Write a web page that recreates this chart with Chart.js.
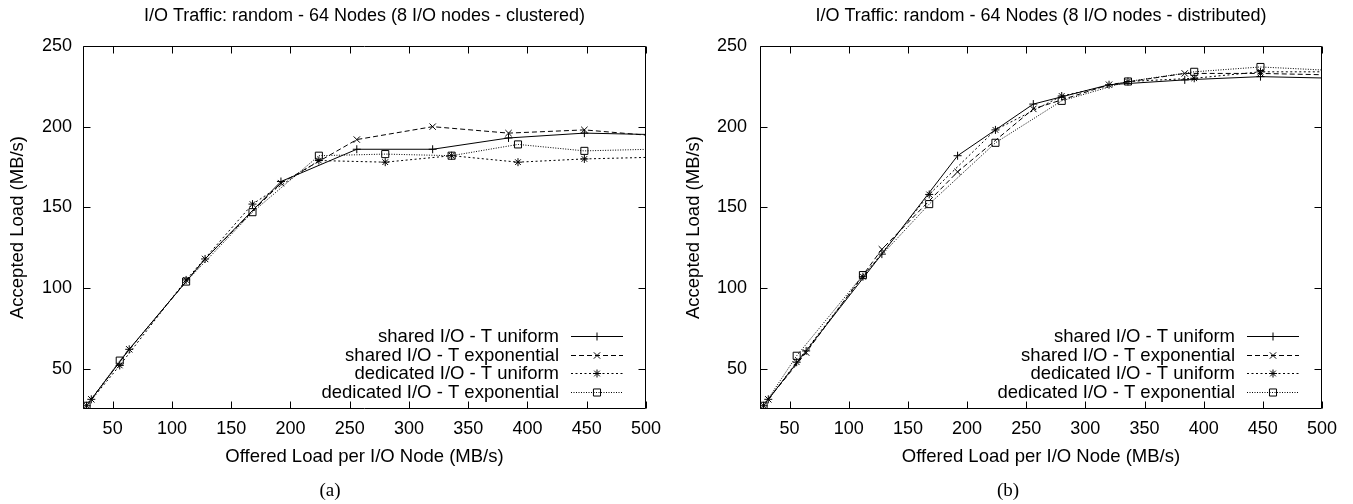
<!DOCTYPE html>
<html><head><meta charset="utf-8">
<script src="https://cdn.jsdelivr.net/npm/chart.js@4/dist/chart.umd.min.js"></script>
<style>
html,body{margin:0;padding:0;background:#fff;}
#wrap{position:relative;width:1353px;height:504px;overflow:hidden;background:#fff;}
.c{position:absolute;top:0;height:504px;}
.lab{position:absolute;top:478px;width:60px;text-align:center;line-height:24px;font-family:"Liberation Serif","Times New Roman",serif;font-size:19px;color:#000;}
</style></head><body>
<div id="wrap">
  <div class="c" style="left:0;width:676px"><canvas id="ca"></canvas></div>
  <div class="c" style="left:676px;width:677px"><canvas id="cb"></canvas></div>
  <div class="lab" style="left:300px">(a)</div>
  <div class="lab" style="left:978px">(b)</div>
</div>
<script>
// ---- data ----
const sharedLoads    = [32, 64, 128, 192, 256, 320, 384, 448, 512];
const dedicatedLoads = [28, 56, 112, 168, 224, 280, 336, 392, 448, 504];

const clusteredSharedUniform        = [31, 62, 118, 166, 186, 186, 193, 196, 195];
const clusteredSharedExponential    = [31, 62, 118, 165, 192, 200, 196, 198, 194];
const clusteredDedicatedUniform     = [27, 52, 105, 152, 179, 178, 182, 178, 180, 181];
const clusteredDedicatedExponential = [27, 55, 104, 147, 182, 183, 182, 189, 185, 186];

const distSharedUniform        = [31, 61, 121, 182, 214, 226, 229, 231, 230];
const distSharedExponential    = [31, 60, 124, 172, 211, 226, 233, 233, 232];
const distDedicatedUniform     = [27, 54, 107, 158, 198, 219, 228, 230, 234, 234];
const distDedicatedExponential = [27, 58, 108, 152, 190, 216, 228, 234, 237, 235];

const seriesLabels = ['shared I/O - T uniform', 'shared I/O - T exponential',
                      'dedicated I/O - T uniform', 'dedicated I/O - T exponential'];
const xTickStep = 50, yTickStep = 50;

// ---- styles ----
const FONT = "'Liberation Sans', Arial, Helvetica, sans-serif";
Chart.defaults.font.family = FONT;
Chart.defaults.color = '#000';

const styles = [
  {borderDash: [], pointStyle: 'cross', pointRadius: 4},
  {borderDash: [5, 3], pointStyle: 'crossRot', pointRadius: 4.5},
  {borderDash: [2, 2.5], pointStyle: 'star', pointRadius: 4},
  {borderDash: [1, 1.5], pointStyle: 'rect', pointRadius: 5}
];

function pts(xs, ys) { return xs.map((x, i) => ({x: x, y: ys[i]})); }

function makeDatasets(a, b, c, d) {
  const sets = [pts(sharedLoads, a), pts(sharedLoads, b), pts(dedicatedLoads, c), pts(dedicatedLoads, d)];
  return sets.map((data, i) => Object.assign({
    label: seriesLabels[i],
    data: data,
    borderColor: '#000',
    borderWidth: 1,
    pointBorderColor: '#000',
    pointBackgroundColor: 'rgba(0,0,0,0)',
    pointBorderWidth: 1,
    pointHoverRadius: 0,
    tension: 0,
    fill: false
  }, styles[i]));
}

const framePlugin = {
  id: 'gnuFrame',
  afterDatasetsDraw(chart) {
    const {ctx, chartArea: a, scales} = chart;
    const L = Math.round(a.left) + 0.5, R = Math.round(a.right) - 0.5;
    const T = Math.round(a.top) + 0.5, B = Math.round(a.bottom) - 0.5;
    const tl = 7;
    ctx.save();
    ctx.strokeStyle = '#000'; ctx.lineWidth = 1; ctx.setLineDash([]);
    ctx.beginPath();
    ctx.rect(L, T, R - L, B - T);
    scales.x.ticks.forEach(t => {
      const px = Math.round(scales.x.getPixelForValue(t.value)) + 0.5;
      ctx.moveTo(px, B); ctx.lineTo(px, B - tl);
      ctx.moveTo(px, T); ctx.lineTo(px, T + tl);
    });
    scales.y.ticks.forEach(t => {
      const py = Math.round(scales.y.getPixelForValue(t.value)) + 0.5;
      ctx.moveTo(L, py); ctx.lineTo(L + tl, py);
      ctx.moveTo(R, py); ctx.lineTo(R - tl, py);
    });
    ctx.stroke();
    ctx.restore();
  }
};

const keyPlugin = {
  id: 'gnuKey',
  afterDatasetsDraw(chart) {
    const {ctx, chartArea: a} = chart;
    const rows = [73, 54.5, 36, 17.5];
    ctx.save();
    ctx.font = '18.5px ' + FONT;
    ctx.textAlign = 'right';
    ctx.textBaseline = 'middle';
    chart.data.datasets.forEach((ds, i) => {
      const y = Math.round(a.bottom - rows[i]) + 0.5;
      ctx.fillStyle = '#000';
      ctx.fillText(ds.label, a.right - 87, y);
      ctx.strokeStyle = '#000'; ctx.lineWidth = 1;
      ctx.setLineDash(ds.borderDash || []);
      ctx.beginPath(); ctx.moveTo(a.right - 75, y); ctx.lineTo(a.right - 23, y); ctx.stroke();
      ctx.setLineDash([]);
      ctx.fillStyle = 'rgba(0,0,0,0)';
      Chart.helpers.drawPoint(ctx, {pointStyle: ds.pointStyle, radius: ds.pointRadius, borderWidth: 1, rotation: 0}, a.right - 49, y);
    });
    ctx.restore();
  }
};

function makeChart(id, title, datasets, yWidth, yPad, rightPad) {
  return new Chart(document.getElementById(id), {
    type: 'line',
    data: {datasets: datasets},
    plugins: [framePlugin, keyPlugin],
    options: {
      responsive: true,
      maintainAspectRatio: false,
      devicePixelRatio: 1,
      animation: false,
      events: [],
      layout: {padding: {left: 0, right: rightPad, top: 0, bottom: 32.2}},
      plugins: {
        legend: {display: false},
        tooltip: {enabled: false},
        title: {display: true, text: title, fullSize: false, color: '#000',
                font: {family: FONT, size: 18, weight: 'normal'},
                padding: {top: 5, bottom: 19.4}}
      },
      scales: {
        x: {
          type: 'linear', min: 25, max: 500,
          grid: {display: false, drawTicks: false},
          border: {display: false},
          ticks: {stepSize: xTickStep, includeBounds: false, autoSkip: false, maxRotation: 0,
                  padding: 9, color: '#000', font: {family: FONT, size: 18}},
          title: {display: true, text: 'Offered Load per I/O Node (MB/s)', color: '#000',
                  font: {family: FONT, size: 18.5}, padding: {top: -3, bottom: 4}}
        },
        y: {
          type: 'linear', min: 25, max: 250,
          grid: {display: false, drawTicks: false},
          border: {display: false},
          ticks: {stepSize: yTickStep, includeBounds: false, padding: yPad, color: '#000',
                  font: {family: FONT, size: 18}},
          title: {display: true, text: 'Accepted Load (MB/s)', color: '#000',
                  font: {family: FONT, size: 18.5}, padding: {top: 7, bottom: 0}},
          afterFit: s => { s.width = yWidth; }
        }
      }
    }
  });
}

makeChart('ca', 'I/O Traffic: random - 64 Nodes (8 I/O nodes - clustered)',
  makeDatasets(clusteredSharedUniform, clusteredSharedExponential, clusteredDedicatedUniform, clusteredDedicatedExponential),
  83, 11, 30);
makeChart('cb', 'I/O Traffic: random - 64 Nodes (8 I/O nodes - distributed)',
  makeDatasets(distSharedUniform, distSharedExponential, distDedicatedUniform, distDedicatedExponential),
  84, 13, 31);
</script>
</body></html>
